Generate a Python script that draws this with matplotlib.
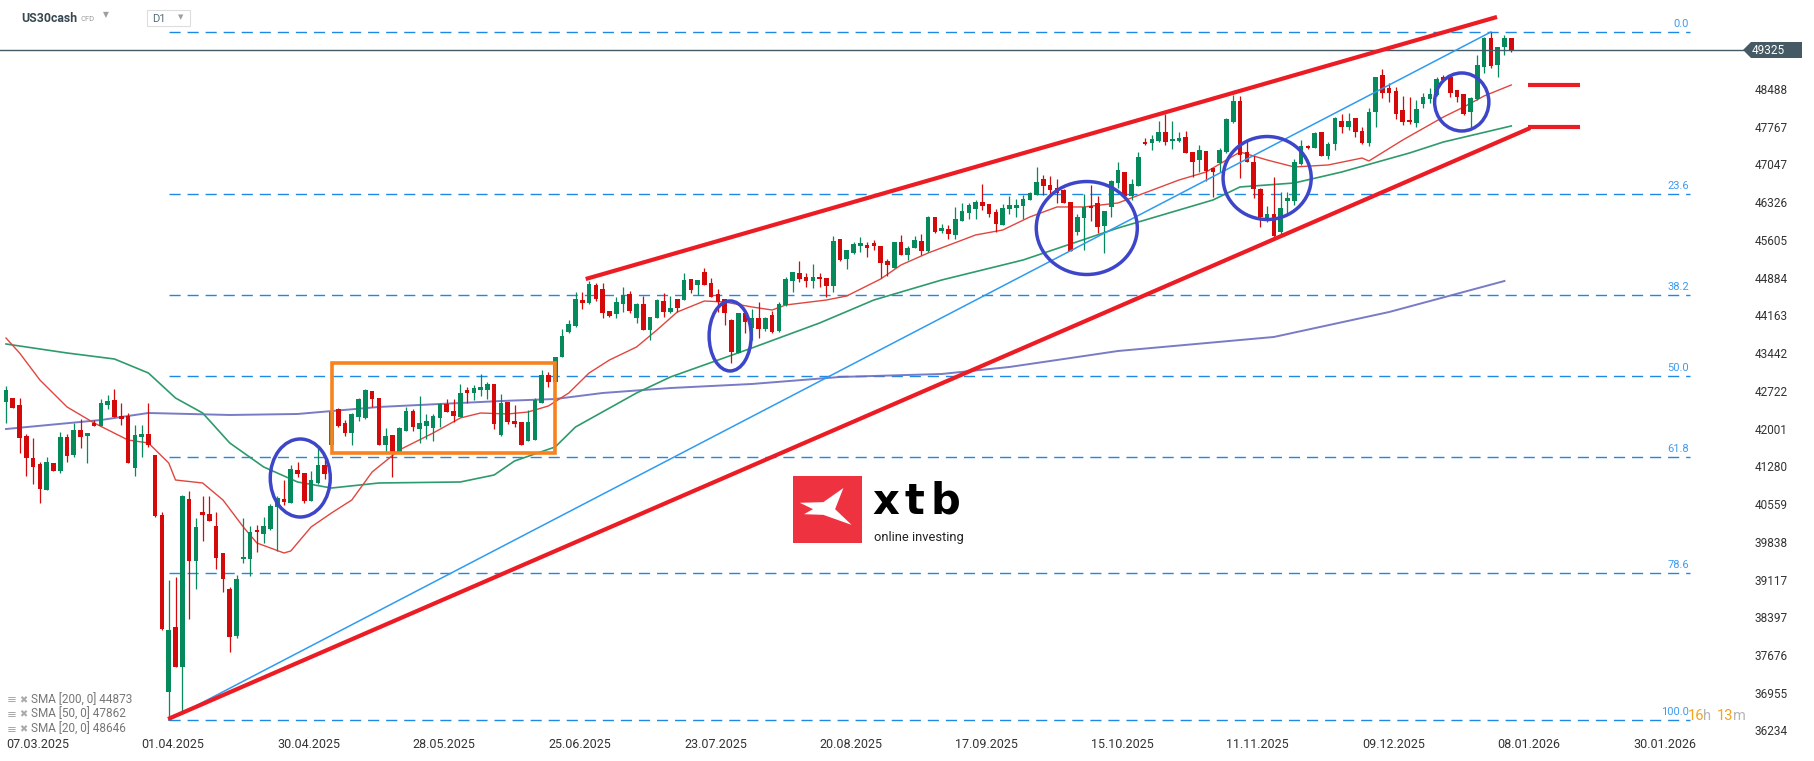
import numpy as np
import matplotlib
matplotlib.use("Agg")
from matplotlib import pyplot as plt
from matplotlib import transforms
from matplotlib.patches import Ellipse, Rectangle, Polygon

plt.rcParams['font.family'] = ['Roboto', 'DejaVu Sans']

# daily candles, US30cash (first candle 07.03.2025)
opens = [42543, 42607, 42479, 41887, 41473, 41346, 40856, 41365, 41225, 41862,
         41524, 42002, 41894, 42142, 42085, 42479, 42575, 42276, 42269, 41270,
         41875, 41925, 41524, 40378, 37004, 38245, 37481, 40684, 39506, 40436,
         40397, 40168, 39659, 38965, 38074, 39532, 39538, 40092, 40015, 40111,
         40537, 40678, 40614, 41238, 41174, 40652, 40996, 41333, 41715, 42397,
         42129, 41951, 42244, 42225, 42747, 42607, 41715, 41906, 41588, 41989,
         42365, 42021, 42085, 42046, 42237, 42498, 42365, 42244, 42766, 42702,
         42766, 42766, 42880, 41906, 42543, 42174, 42148, 41798, 41811, 42524,
         43052, 42925, 43403, 43880, 43995, 44485, 44434, 44771, 44689, 44275,
         44211, 44402, 44593, 44147, 44409, 43912, 44147, 44466, 44262, 44498,
         44485, 44880, 44771, 45013, 44816, 44600, 44504, 44103, 43466, 44230,
         43944, 44135, 43925, 44198, 43899, 44389, 44848, 44994, 44931, 44848,
         44918, 44899, 44759, 45644, 45268, 45389, 45523, 45535, 45567, 45516,
         45230, 45102, 45586, 45344, 45484, 45612, 45421, 46077, 45809, 45835,
         45726, 46000, 46153, 46223, 46357, 46319, 46172, 45917, 46223, 46248,
         46287, 46395, 46490, 46790, 46681, 46618, 46586, 46363, 45790, 46057,
         46280, 46331, 45898, 46255, 46726, 46923, 46478, 46669, 47496, 47477,
         47522, 47687, 47522, 47528, 47605, 47305, 47159, 47331, 47000, 47108,
         47305, 47891, 48286, 47318, 47127, 46605, 46045, 46127, 45777, 46382,
         46382, 47076, 47426, 47394, 47700, 47235, 47465, 47904, 47796, 47955,
         47713, 47477, 48069, 48782, 48528, 48483, 48114, 47923, 47872, 48229,
         48324, 48400, 48738, 48751, 48496, 48420, 48069, 48318, 48942, 49483,
         48973, 49311, 49483]
highs = [42842, 42607, 42607, 41925, 41843, 41384, 41480, 41365, 41970, 41925,
         42142, 42206, 41938, 42193, 42588, 42670, 42785, 42511, 42320, 42097,
         42097, 42511, 41524, 40429, 39137, 39200, 40760, 40843, 40315, 40748,
         40748, 40442, 39659, 38997, 39232, 40315, 40168, 40187, 40346, 40588,
         40741, 41047, 41333, 41384, 41174, 41225, 41671, 41480, 42403, 42416,
         42193, 42320, 42620, 42779, 42747, 42607, 42034, 41906, 42065, 42447,
         42403, 42651, 42307, 42301, 42511, 42588, 42588, 42874, 42830, 42861,
         43071, 42925, 42880, 42689, 42543, 42479, 42148, 42384, 42607, 43148,
         43103, 43403, 43925, 44103, 44644, 44644, 44854, 44803, 44803, 44275,
         44549, 44727, 44657, 44434, 44568, 44154, 44504, 44612, 44568, 44504,
         44994, 44880, 44867, 45090, 44899, 44689, 44504, 44116, 44230, 44230,
         44307, 44453, 44166, 44281, 44453, 44931, 45026, 45230, 44994, 45172,
         44994, 44899, 45707, 45644, 45440, 45599, 45682, 45586, 45631, 45516,
         45262, 45586, 45726, 45516, 45707, 45746, 46089, 46077, 45936, 45917,
         46255, 46331, 46344, 46395, 46701, 46319, 46217, 46319, 46471, 46408,
         46490, 46554, 47032, 46872, 46853, 46796, 46599, 46363, 46128, 46503,
         46681, 46471, 46185, 46777, 47127, 46936, 46790, 47305, 47573, 47636,
         47904, 48031, 47910, 47700, 47713, 47305, 47445, 47331, 47012, 47394,
         47967, 48400, 48381, 47528, 47254, 46618, 46280, 46841, 46541, 46554,
         47172, 47541, 47445, 47700, 47700, 47509, 47974, 48031, 48063, 47955,
         47796, 48146, 48751, 48891, 48623, 48547, 48381, 48369, 48305, 48445,
         48528, 48751, 48782, 48763, 48496, 48420, 48356, 49164, 49502, 49610,
         49324, 49546, 49483]
lows = [42129, 42416, 41569, 41130, 40964, 40614, 40856, 41225, 41187, 41384,
        41480, 41652, 41365, 42085, 42085, 42403, 42244, 42097, 41365, 41123,
        41480, 41684, 40346, 38182, 36463, 37469, 36622, 38385, 38958, 39888,
        40270, 39340, 38914, 37768, 38023, 39455, 39213, 39665, 39837, 40092,
        39697, 40569, 40601, 41111, 40614, 40652, 40970, 41066, 41684, 42066,
        41887, 41715, 42180, 42206, 42447, 41715, 41588, 41110, 41588, 41989,
        41989, 41760, 41830, 41798, 42065, 42352, 42161, 42244, 42511, 42575,
        42651, 42588, 42015, 41894, 42116, 42065, 41715, 41798, 41811, 42524,
        42830, 42925, 43403, 43861, 43963, 44313, 44409, 44466, 44135, 44167,
        44135, 44262, 44243, 44052, 43912, 43721, 44147, 44154, 44243, 44262,
        44485, 44625, 44580, 44771, 44549, 44262, 44007, 43275, 43466, 43861,
        43721, 43753, 43899, 43861, 43880, 44370, 44644, 44835, 44739, 44720,
        44726, 44548, 44631, 45236, 45071, 45363, 45408, 45313, 45440, 44899,
        44943, 45090, 45344, 45249, 45472, 45344, 45408, 45771, 45758, 45644,
        45650, 46000, 46032, 46026, 46204, 46077, 45790, 45917, 46128, 46077,
        46032, 46395, 46490, 46490, 46471, 46344, 46331, 45427, 45726, 45440,
        46000, 45771, 45389, 46077, 46618, 46458, 46395, 46669, 47445, 47350,
        47496, 47445, 47369, 47509, 47286, 46841, 46936, 46758, 46458, 46936,
        47286, 47872, 46809, 47127, 46427, 45885, 45981, 45694, 45745, 46153,
        46299, 47063, 47363, 47382, 47242, 47172, 47350, 47681, 47732, 47605,
        47465, 47426, 47783, 48337, 48273, 47936, 47827, 47846, 47783, 48146,
        48254, 48381, 48668, 48356, 48273, 48018, 47796, 48305, 48827, 48910,
        48751, 49164, 49228]
closes = [42766, 42429, 41856, 41461, 41302, 40881, 41384, 41225, 41862, 41512,
          42002, 41875, 41938, 42085, 42524, 42562, 42244, 42206, 41365, 41906,
          41919, 41709, 40366, 38201, 38182, 37469, 40748, 39506, 40155, 40378,
          40270, 39563, 39150, 38054, 39156, 39570, 40060, 40047, 40168, 40557,
          40697, 40620, 41251, 41161, 40652, 41047, 41333, 41161, 42352, 42078,
          41951, 42308, 42594, 42766, 42594, 41715, 41887, 41588, 42046, 42365,
          42065, 42129, 42174, 42269, 42498, 42352, 42276, 42702, 42702, 42798,
          42830, 42880, 42116, 42524, 42148, 42116, 41715, 42161, 42575, 43052,
          42925, 43403, 43797, 44020, 44504, 44434, 44791, 44504, 44243, 44186,
          44453, 44580, 44275, 44409, 43912, 44154, 44485, 44262, 44339, 44339,
          44867, 44676, 44867, 44771, 44549, 44440, 44230, 43498, 44230, 44071,
          44135, 43925, 44135, 43880, 44408, 44880, 45013, 44886, 44848, 44918,
          44880, 44759, 45612, 45249, 45440, 45555, 45567, 45484, 45523, 45198,
          45153, 45586, 45344, 45472, 45631, 45427, 46064, 45790, 45854, 45746,
          46026, 46185, 46299, 46363, 46280, 46121, 45930, 46236, 46299, 46299,
          46414, 46535, 46745, 46669, 46586, 46535, 46331, 45427, 46064, 46268,
          46236, 45886, 46185, 46758, 46968, 46478, 46700, 47223, 47458, 47560,
          47687, 47509, 47560, 47573, 47286, 47127, 47350, 46949, 46936, 47350,
          47942, 48286, 47254, 47127, 46605, 46076, 46127, 45707, 46236, 46439,
          47114, 47426, 47382, 47668, 47242, 47465, 47955, 47796, 47904, 47700,
          47477, 48069, 48751, 48445, 48445, 48038, 47891, 47878, 48133, 48356,
          48420, 48700, 48687, 48445, 48369, 48031, 48337, 48973, 49483, 48954,
          49311, 49483, 49260]

# moving averages, sampled off the chart (candle index, price)
sma200_idx = [0, 14, 21, 33, 43, 55, 64, 73, 81, 88, 98, 110, 123, 138, 148, 157, 164, 187, 204, 221]
sma200_val = [42021, 42193, 42327, 42289, 42308, 42442, 42499, 42556, 42594, 42709,
              42804, 42881, 43015, 43072, 43206, 43377, 43511, 43779, 44256, 44848]
sma50_idx = [0, 9, 16, 21, 25, 29, 33, 38, 43, 48, 55, 67, 72, 75, 81, 84, 93, 98, 110, 120,
             128, 138, 150, 164, 178, 182, 190, 197, 207, 212, 222]
sma50_val = [43645, 43473, 43358, 43091, 42613, 42327, 41754, 41296, 41009, 40894,
             40990, 41009, 41143, 41410, 41678, 42060, 42709, 43015, 43568, 44046,
             44485, 44867, 45249, 45860, 46395, 46644, 46720, 46930, 47293, 47503, 47809]
sma20_idx = [0, 2, 5, 9, 13, 18, 21, 24, 25, 29, 32, 35, 37, 41, 42, 45, 48, 51, 54, 58,
             63, 67, 70, 74, 77, 80, 83, 86, 89, 93, 96, 99, 103, 106, 110, 113, 115, 121, 124, 129,
             132, 136, 143, 147, 151, 155, 159, 164, 173, 177, 182, 186, 190, 195, 200, 201, 206, 212, 215, 218,
             222]
sma20_val = [43759, 43473, 42957, 42442, 42136, 41811, 41754, 41372, 41047, 40990,
             40665, 40150, 39844, 39653, 39691, 40150, 40417, 40665, 41200, 41620,
             41945, 42231, 42327, 42308, 42346, 42461, 42709, 43091, 43339, 43588,
             43912, 44256, 44466, 44447, 44352, 44294, 44390, 44485, 44562, 44886,
             45154, 45383, 45727, 45822, 46071, 46262, 46262, 46338, 46777, 46930,
             47312, 47159, 47026, 47064, 47197, 47140, 47541, 47981, 48172, 48382,
             48592]
sma_legend = ["SMA [200, 0] 44873", "SMA [50, 0] 47862", "SMA [20, 0] 48646"]
last_price = 49325

price_ticks = [49209, 48488, 47767, 47047, 46326, 45605, 44884, 44163, 43442, 42722,
               42001, 41280, 40559, 39838, 39117, 38397, 37676, 36955, 36234]
date_labels = ["07.03.2025", "01.04.2025", "30.04.2025", "28.05.2025", "25.06.2025",
               "23.07.2025", "20.08.2025", "17.09.2025", "15.10.2025", "11.11.2025",
               "09.12.2025", "08.01.2026", "30.01.2026"]
date_idx = [0, 20, 40, 60, 80, 100, 120, 140, 160, 180, 200, 220, 240]

# fibonacci retracement from the April low to the January high
fib_levels = [0.0, 23.6, 38.2, 50.0, 61.8, 78.6, 100.0]
fib_low, fib_high = 36463, 49604
fib_low_idx, fib_high_idx = 24, 219

# drawn annotations
channel_upper = [(85.5, 44886), (219.9, 49891)]
channel_lower = [(23.9, 36482), (224.8, 47770)]
target_levels = [48601, 47790]
range_box = (48.1, 81.0, 41563, 43282)
circle_idx = [43.4, 106.8, 159.4, 186.0, 214.7]
circle_price = [41085, 43798, 45860, 46815, 48267]
circle_w = [8.85, 6.2, 14.9, 13.0, 8.0]
circle_h = [1490, 1337, 1776, 1585, 1108]

W, H = 1815, 761
GREEN = '#078a5b'
RED = '#d40a0a'


def fpos(px, py):
    return px / W, 1 - py / H


fig = plt.figure(figsize=(W / 100, H / 100), dpi=100)
ax = fig.add_axes([0, 0, 1, 1])
ax.set_xlim(-0.885, 266.8)
ax.set_ylim(35680, 50215)
ax.axis('off')

# fib levels
fib_end = 248.4
lbl_tr = transforms.offset_copy(ax.transData, fig=fig, y=3, units='dots')
for lvl in fib_levels:
    y = fib_high - lvl / 100 * (fib_high - fib_low)
    ax.plot([fib_low_idx, fib_end], [y, y], color='#1e88e5', lw=1.0,
            linestyle=(0, (8, 5)), zorder=1)
    ax.text(fib_end - 0.2, y, f"{lvl:.1f}", transform=lbl_tr, ha='right', va='bottom',
            fontsize=8, color='#3d9bf0', zorder=6)

# moving averages
ax.plot(sma200_idx, sma200_val, color='#6a6dbf', lw=1.4, alpha=0.9, zorder=2)
ax.plot(sma50_idx, sma50_val, color='#2f9a6c', lw=1.2, zorder=2)
ax.plot(sma20_idx, sma20_val, color='#e0463f', lw=1.0, zorder=2)

# candles
o = np.array(opens)
h = np.array(highs)
l = np.array(lows)
c = np.array(closes)
x = np.arange(len(c))
cols = np.where(c >= o, GREEN, RED)
ax.vlines(x, l, h, colors=cols, lw=0.9, zorder=3)
ax.bar(x, np.maximum(np.abs(c - o), 25), bottom=np.minimum(o, c), width=0.68,
       color=cols, lw=0, zorder=4)

# current price line
ax.plot([-1, 256.2], [c[-1], c[-1]], color='#455a64', lw=1.0, zorder=5)

# trend lines and channel
ax.plot([fib_low_idx, fib_high_idx], [fib_low, fib_high], color='#2f9bf0', lw=1.1, zorder=5)
for seg in (channel_upper, channel_lower):
    ax.plot([seg[0][0], seg[1][0]], [seg[0][1], seg[1][1]], color='#ec1c24', lw=3.0,
            solid_capstyle='butt', zorder=6)
for lv in target_levels:
    ax.plot([224.5, 232.2], [lv, lv], color='#ec1c24', lw=3.0, solid_capstyle='butt', zorder=6)

bx0, bx1, by0, by1 = range_box
ax.add_patch(Rectangle((bx0, by0), bx1 - bx0, by1 - by0, fill=False, ec='#f7821e', lw=2.6,
                       zorder=6))
for ci, cp, cw, ch in zip(circle_idx, circle_price, circle_w, circle_h):
    ax.add_patch(Ellipse((ci, cp), cw, ch, fill=False, ec='#3d46c9', lw=2.5, zorder=6))

# price axis labels
for v in price_ticks:
    ax.text(1755 / W, v, str(v), transform=ax.get_yaxis_transform(), ha='left', va='center',
            fontsize=8.5, color='#333333', zorder=7)

# price tag
py = H - ax.transData.transform((0, c[-1]))[1]
tag = [fpos(1743, py), fpos(1751, py - 8), fpos(1802, py - 8), fpos(1802, py + 8),
       fpos(1751, py + 8)]
fig.patches.append(Polygon(tag, closed=True, transform=fig.transFigure, fc='#455a64',
                           ec='none', zorder=8))
fig.text(*fpos(1752, py), str(last_price), color='white', fontsize=8.5, ha='left',
         va='center', zorder=9)

# date labels
for di, dl in zip(date_idx, date_labels):
    ax.text(di, 1 - 744 / H, dl, transform=ax.get_xaxis_transform(), ha='left', va='center',
            fontsize=9, color='#333333')

# countdown near the 100.0 level
for px_, txt, col in [(1688, '16', '#f5a31a'), (1703, 'h', '#b5b5b5'),
                      (1717, '13', '#f5a31a'), (1733, 'm', '#b5b5b5')]:
    fig.text(*fpos(px_, 716), txt, color=col, fontsize=10.5, ha='left', va='center')

# sma legend
for k, txt in enumerate(sma_legend):
    yy = 700 + 14.5 * k
    fig.text(*fpos(7, yy), '\u2261', color='#aaaaaa', fontsize=8.5, ha='left', va='center',
             family='DejaVu Sans')
    fig.text(*fpos(19, yy), '\u2716', color='#aaaaaa', fontsize=7, ha='left', va='center',
             family='DejaVu Sans')
    fig.text(*fpos(31, yy), txt, color='#777777', fontsize=8.5, ha='left', va='center')

# header
fig.text(*fpos(21, 18), 'US30cash', fontsize=8.8, weight='bold', color='#37474f',
         ha='left', va='center')
fig.text(*fpos(81, 19), 'CFD', fontsize=5.5, color='#9e9e9e', ha='left', va='center')
fig.text(*fpos(103, 15), '\u25bc', fontsize=5.5, color='#9e9e9e', ha='left', va='center',
         family='DejaVu Sans')
fig.patches.append(Rectangle(fpos(147, 26), 43 / W, 16 / H, transform=fig.transFigure,
                             fc='white', ec='#dddddd', lw=0.8))
fig.text(*fpos(152, 19), 'D1', fontsize=8, color='#546e7a', ha='left', va='center')
fig.text(*fpos(178, 17), '\u25bc', fontsize=5, color='#9e9e9e', ha='left', va='center',
         family='DejaVu Sans')

# xtb logo
fig.patches.append(Rectangle(fpos(793, 543), 69 / W, 67 / H, transform=fig.transFigure,
                             fc='#ee3240', ec='none', zorder=8))
x_shape = [(0.10, 0.60), (0.44, 0.61), (0.73, 0.82), (0.61, 0.505), (0.85, 0.27),
           (0.44, 0.42), (0.16, 0.43), (0.29, 0.505)]
fig.patches.append(Polygon([fpos(793 + u * 69, 543 - v * 67) for u, v in x_shape],
                           closed=True, transform=fig.transFigure, fc='white', ec='none',
                           zorder=9))
for px_, ch in [(872, 'x'), (905, 't'), (931, 'b')]:
    fig.text(*fpos(px_, 514), ch, fontsize=30, weight='bold', color='black',
             family='DejaVu Sans', ha='left', va='baseline')
fig.text(*fpos(874, 537), 'online investing', fontsize=9.3, color='#222222', ha='left',
         va='center')

fig.savefig('out.png', dpi=100)
